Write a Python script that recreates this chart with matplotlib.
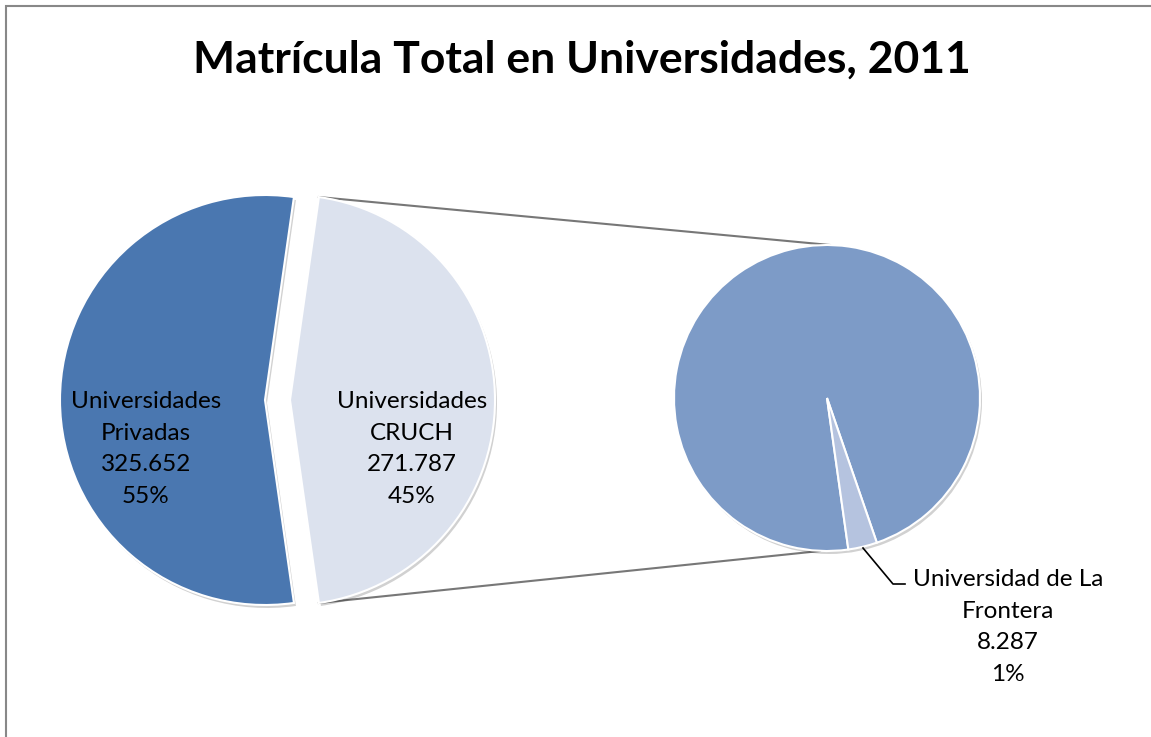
import numpy as np
import matplotlib.pyplot as plt
from matplotlib.patches import Rectangle

# Data (matricula 2011)
main_labels = ['Universidades\nPrivadas', 'Universidades\nCRUCH']
main_values = [325652, 271787]
sub_labels = ['CRUCH resto', 'Universidad de La\nFrontera']
sub_values = [263500, 8287]

main_colors = ['#4A77B0', '#DCE2EE']
sub_colors = ['#7D9BC7', '#B5C3DF']

W, H = 1151, 737
plt.rcParams['font.family'] = ['Lato', 'DejaVu Sans']
fig = plt.figure(figsize=(W / 100, H / 100), dpi=100)
ax = fig.add_axes([0, 0, 1, 1])


def fmt(v):
    return f"{v:,}".replace(',', '.')


total = sum(main_values)
wp = dict(edgecolor='white', linewidth=1.5)

# main pie: CRUCH slice centred on the right, exploded
c1 = (265, H - 400)
r1 = 205
expl = 25
half = 180 * main_values[1] / total
# soft shadow underneath
ax.pie(main_values, colors=['#000000'] * 2, startangle=half,
       center=(c1[0] + 2, c1[1] - 3), radius=r1, explode=[0, expl], frame=True,
       wedgeprops=dict(alpha=0.18, linewidth=0))
ax.pie(main_values, colors=main_colors, startangle=half, counterclock=True,
       center=c1, radius=r1, explode=[0, expl], frame=True, wedgeprops=wp)

# secondary pie
c2 = (827, H - 398)
r2 = 153
ax.pie([sum(sub_values)], colors=['#000000'], center=(c2[0] + 2, c2[1] - 3),
       radius=r2, frame=True, wedgeprops=dict(alpha=0.18, linewidth=0))
ax.pie(sub_values, colors=sub_colors, startangle=-71, counterclock=True,
       center=c2, radius=r2, frame=True, wedgeprops=wp)

ax.set_xlim(0, W)
ax.set_ylim(0, H)
ax.set_aspect('equal')
ax.axis('off')

# connector lines
a = np.deg2rad(half)
cx = c1[0] + expl
tip_top = (cx + r1 * np.cos(a), c1[1] + r1 * np.sin(a))
tip_bot = (cx + r1 * np.cos(a), c1[1] - r1 * np.sin(a))
ax.plot([tip_top[0], c2[0] + 3], [tip_top[1], c2[1] + r2], color='#777777', lw=1.5, zorder=0)
ax.plot([tip_bot[0], c2[0] - 7], [tip_bot[1], c2[1] - r2], color='#777777', lw=1.5, zorder=0)

# labels
fs = 17.5
ls = 1.64
pct = [round(v / total * 100) for v in main_values]
ax.text(146, H - 449, f"{main_labels[0]}\n{fmt(main_values[0])}\n{pct[0]}%",
        ha='center', va='center', fontsize=fs, linespacing=ls, color='black')
ax.text(412, H - 449, f"{main_labels[1]}\n{fmt(main_values[1])}\n{pct[1]}%",
        ha='center', va='center', fontsize=fs, linespacing=ls, color='black')
p_sub = round(sub_values[1] / total * 100)
ax.text(1008, H - 627, f"{sub_labels[1]}\n{fmt(sub_values[1])}\n{p_sub}%",
        ha='center', va='center', fontsize=fs, linespacing=ls, color='black')

# leader line for small slice
ax.plot([863, 893, 905], [H - 548, H - 584, H - 584], color='black', lw=1.2)

fig.text(582 / W, 1 - 60 / H, 'Matrícula Total en Universidades, 2011',
         ha='center', va='center', fontsize=32, fontweight='bold')

# chart frame (only left and top edges visible)
fig.patches.append(Rectangle((6 / W, -0.1), 1.1, 1.1 - 6 / H,
                             transform=fig.transFigure, fill=False,
                             edgecolor='#888888', linewidth=1.5))

fig.savefig('out.png', dpi=100)
